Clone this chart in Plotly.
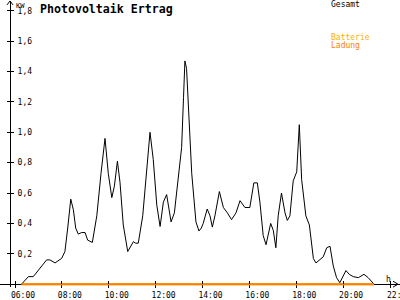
import plotly.graph_objects as go

# ---- data ----
hours_gesamt = [6.28, 6.57, 6.78, 7.07, 7.35, 7.49, 7.71, 7.99, 8.13, 8.25, 8.38, 8.49, 8.59, 8.70,
                8.84, 8.99, 9.10, 9.30, 9.49, 9.67, 9.84, 9.98, 10.13, 10.24, 10.37, 10.48, 10.62,
                10.81, 11.05, 11.15, 11.26, 11.45, 11.62, 11.76, 11.90, 12.05, 12.19, 12.33, 12.47,
                12.57, 12.66, 12.80, 12.97, 13.11, 13.19, 13.25, 13.32, 13.40, 13.54, 13.72, 13.85,
                13.95, 14.03, 14.20, 14.32, 14.42, 14.53, 14.72, 14.89, 15.06, 15.24, 15.43, 15.60,
                15.81, 16.02, 16.19, 16.34, 16.45, 16.59, 16.71, 16.91, 17.02, 17.13, 17.23, 17.37,
                17.52, 17.62, 17.73, 17.87, 18.02, 18.13, 18.23, 18.41, 18.56, 18.73, 18.84, 18.98,
                19.15, 19.30, 19.44, 19.58, 19.72, 19.86, 19.98, 20.12, 20.26, 20.43, 20.65, 20.89,
                21.07, 21.22, 21.32]
kw_gesamt = [0.0, 0.05, 0.05, 0.11, 0.16, 0.16, 0.14, 0.17, 0.215, 0.37, 0.56, 0.49, 0.37, 0.33,
             0.34, 0.34, 0.29, 0.275, 0.45, 0.73, 0.96, 0.73, 0.57, 0.645, 0.81, 0.67, 0.39,
             0.215, 0.28, 0.27, 0.27, 0.45, 0.77, 1.0, 0.82, 0.52, 0.38, 0.54, 0.59,
             0.48, 0.41, 0.47, 0.69, 0.90, 1.23, 1.47, 1.42, 1.15, 0.73, 0.41, 0.35,
             0.37, 0.40, 0.495, 0.45, 0.376, 0.45, 0.61, 0.505, 0.47, 0.425, 0.47, 0.55,
             0.505, 0.505, 0.667, 0.667, 0.54, 0.32, 0.26, 0.40, 0.355, 0.24, 0.45, 0.60,
             0.47, 0.42, 0.45, 0.68, 0.74, 1.05, 0.69, 0.45, 0.39, 0.17, 0.14, 0.16,
             0.18, 0.24, 0.25, 0.12, 0.043, 0.01, 0.043, 0.09, 0.065, 0.05, 0.043, 0.065,
             0.043, 0.017, 0.0]
hours_batt = [6.28, 21.32]
kw_batt = [0.0, 0.0]
hours_ladung = [6.28, 21.32]
kw_ladung = [0.0, 0.0]

x_tickvals = [6, 8, 10, 12, 14, 16, 18, 20, 22]
x_ticktext = ["06:00", "08:00", "10:00", "12:00", "14:00", "16:00", "18:00", "20:00", "22:00"]
y_tickvals = [0.2, 0.4, 0.6, 0.8, 1.0, 1.2, 1.4, 1.6, 1.8]

title_text = "Photovoltaik Ertrag"
legend_names = ["Gesamt", "Batterie", "Ladung"]
colors = {"Gesamt": "#000000", "Batterie": "#FFB000", "Ladung": "#FF8000"}

# ---- geometry (pixels) ----
W, H = 400, 300
PX_PER_H = 23.4375
X0_PX = 15      # 06:00
Y0_PX = 290     # 0 kW
PX_PER_KW = 155
TOP_PX, BOT_PX = 1, 293

def hx(px):
    return 6 + (px - X0_PX) / PX_PER_H

def fx(px):
    return px / W

def fy(py):
    return (H - py) / H

x_range = [hx(0), hx(W)]
y_range = [(Y0_PX - BOT_PX) / PX_PER_KW, (Y0_PX - TOP_PX) / PX_PER_KW]
y_domain = [fy(BOT_PX), fy(TOP_PX)]

mono = "DejaVu Sans Mono"

fig = go.Figure()
fig.add_trace(go.Scatter(x=hours_batt, y=kw_batt, mode="lines", name="Batterie",
                         line=dict(color=colors["Batterie"], width=2), cliponaxis=False))
fig.add_trace(go.Scatter(x=hours_gesamt, y=kw_gesamt, mode="lines", name="Gesamt",
                         line=dict(color=colors["Gesamt"], width=1)))
fig.add_trace(go.Scatter(x=hours_ladung, y=kw_ladung, mode="lines", name="Ladung",
                         line=dict(color=colors["Ladung"], width=2), xaxis="x2", yaxis="y2",
                         cliponaxis=False))

axis_common = dict(showgrid=False, zeroline=False)
fig.update_layout(
    width=W, height=H,
    margin=dict(l=0, r=0, t=0, b=0),
    paper_bgcolor="white", plot_bgcolor="white",
    showlegend=False,
    separators=",.",
    font=dict(family=mono, size=8, color="black"),
    xaxis=dict(range=x_range, domain=[0, 1], anchor="free", position=fy(Y0_PX),
               showline=True, linecolor="black", linewidth=1, layer="below traces",
               tickmode="array", tickvals=x_tickvals, ticktext=x_ticktext,
               ticks="outside", ticklen=3, tickcolor="black", tickwidth=1,
               ticklabelshift=8, ticklabelstandoff=0,
               tickfont=dict(family=mono, size=8, color="black"), **axis_common),
    yaxis=dict(range=y_range, domain=y_domain, anchor="free", position=fx(10), side="right",
               showline=True, linecolor="black", linewidth=1, layer="below traces",
               tickmode="array", tickvals=y_tickvals, tickformat=".1f",
               ticks="outside", ticklen=3, tickcolor="black", tickwidth=1,
               ticklabelstandoff=2,
               tickfont=dict(family=mono, size=8, color="black"), **axis_common),
    xaxis2=dict(range=x_range, domain=[0, 1], anchor="free", position=fy(Y0_PX),
                overlaying="x", showline=False,
                tickmode="array", tickvals=x_tickvals, showticklabels=False,
                ticks="inside", ticklen=3, tickcolor="black", tickwidth=1, **axis_common),
    yaxis2=dict(range=y_range, domain=y_domain, anchor="free", position=fx(10), side="right",
                overlaying="y", showline=False,
                tickmode="array", tickvals=y_tickvals, showticklabels=False,
                ticks="inside", ticklen=3, tickcolor="black", tickwidth=1, **axis_common),
)

# axis arrows
def path(points):
    return "M " + " L ".join(f"{fx(a)},{fy(b)}" for a, b in points)

fig.add_shape(type="path", xref="paper", yref="paper",
              path=path([(7, 5), (10, 1), (13, 5)]), line=dict(color="black", width=1))
fig.add_shape(type="path", xref="paper", yref="paper",
              path=path([(393, 287), (398, 290), (393, 293)]), line=dict(color="black", width=1))

def label(text, px, py, color="black", size=8, bold=False, xanchor="left", yanchor="middle"):
    fig.add_annotation(x=fx(px), y=fy(py), xref="paper", yref="paper", text=f"<b>{text}</b>" if bold else text,
                       showarrow=False, xanchor=xanchor, yanchor=yanchor,
                       font=dict(family=mono, size=size, color=color))

label(title_text, 38, 9, size=11.6, bold=True)
label("KW", 14, 6, size=7)
label("h", 384, 285)
label(legend_names[0], 329, 5)
label(legend_names[1], 329, 38, color=colors["Batterie"])
label(legend_names[2], 329, 46, color=colors["Ladung"])
# last tick label: only its visible part, the rest runs past the right edge in the reference
label(x_ticktext[-1][:3], 385, 295, yanchor="top")

fig.write_html("out.html")
